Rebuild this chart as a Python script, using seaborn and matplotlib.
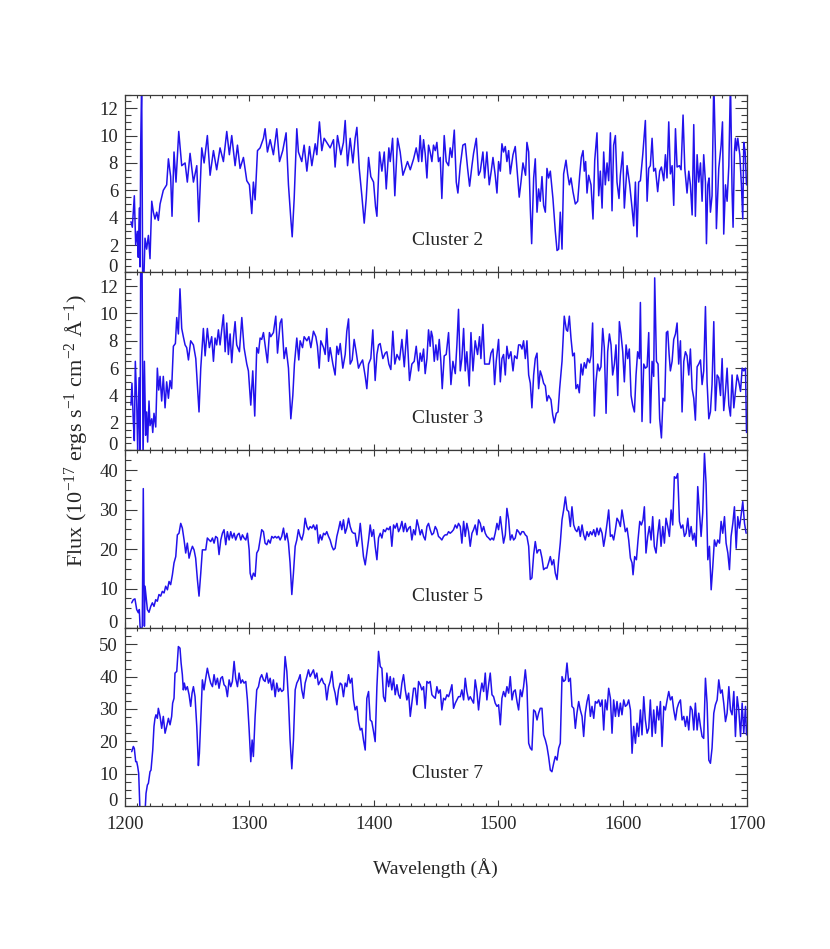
"""
Stacked HST/UV cluster spectra, 1200-1700 A
"""
import matplotlib
matplotlib.use('Agg')
import matplotlib.pyplot as plt
from matplotlib.ticker import MultipleLocator
import pandas as pd
import seaborn as sns

# ---- data ----
panel_labels = ['Cluster 2', 'Cluster 3', 'Cluster 5', 'Cluster 7']
panel_ymax = [13, 13, 45, 55]
panel_major = [2, 2, 10, 10]
panel_minor = [0.5, 0.5, 2.5, 2.5]

wave_c2 = [
    1204.8, 1205.9, 1207.5, 1208.6, 1209.9, 1210.7, 1211.5, 1212.1, 1212.6, 1213.4,
    1214.2, 1215.3, 1216.1, 1217.4, 1218.8, 1220.1, 1221.5, 1222.8, 1224.1, 1225.5,
    1226.8, 1228.2, 1230.8, 1233.5, 1234.9, 1236.7, 1237.8, 1239.4, 1241.0, 1243.2,
    1245.6, 1248.3, 1250.1, 1252.3, 1255.0, 1257.7, 1259.3, 1261.7, 1263.6, 1266.2,
    1268.4, 1271.1, 1273.7, 1276.4, 1279.1, 1281.8, 1283.9, 1285.8, 1288.5, 1290.4,
    1292.5, 1295.2, 1297.9, 1300.0, 1301.9, 1303.2, 1304.6, 1306.5, 1308.6, 1311.3,
    1312.6, 1314.5, 1316.7, 1319.3, 1322.0, 1324.2, 1326.8, 1329.5, 1331.4, 1333.3,
    1334.4, 1336.0, 1338.1, 1339.4, 1342.1, 1344.0, 1346.2, 1348.3, 1350.2, 1352.9,
    1354.2, 1356.3, 1358.2, 1360.1, 1362.2, 1364.9, 1367.6, 1368.9, 1370.8, 1373.5,
    1375.6, 1377.0, 1378.9, 1381.0, 1383.2, 1385.0, 1386.4, 1388.3, 1390.4, 1392.3,
    1393.9, 1395.8, 1397.6, 1399.8, 1401.4, 1402.5, 1404.6, 1406.5, 1408.4, 1410.0,
    1412.1, 1413.2, 1415.1, 1416.9, 1419.1, 1421.2, 1423.4, 1425.3, 1427.1, 1429.3,
    1432.0, 1434.1, 1436.0, 1437.3, 1438.6, 1440.0, 1441.3, 1442.7, 1444.0, 1445.3,
    1446.7, 1448.0, 1449.4, 1450.7, 1452.0, 1453.4, 1454.7, 1456.6, 1458.2, 1460.1,
    1461.4, 1462.8, 1464.7, 1466.3, 1467.6, 1469.5, 1471.6, 1473.5, 1475.4, 1477.0,
    1478.9, 1480.2, 1482.4, 1484.2, 1485.6, 1487.7, 1489.1, 1490.9, 1492.8, 1494.4,
    1495.8, 1497.6, 1499.0, 1500.3, 1501.7, 1503.0, 1504.3, 1505.7, 1507.0, 1508.4,
    1509.7, 1511.9, 1513.7, 1515.1, 1516.9, 1518.3, 1519.9, 1522.0, 1523.1, 1524.5,
    1525.8, 1526.9, 1528.5, 1529.8, 1531.2, 1532.5, 1533.8, 1535.2, 1536.5, 1537.9,
    1539.2, 1540.5, 1541.9, 1544.0, 1545.9, 1547.3, 1548.6, 1549.9, 1551.3, 1552.6,
    1554.5, 1555.8, 1557.2, 1558.5, 1560.1, 1562.0, 1563.9, 1565.5, 1566.8, 1568.2,
    1569.2, 1570.3, 1571.4, 1572.7, 1574.6, 1576.2, 1577.6, 1579.4, 1580.8, 1582.1,
    1583.5, 1584.8, 1586.1, 1587.5, 1588.8, 1590.2, 1591.5, 1592.8, 1594.2, 1595.5,
    1597.1, 1598.2, 1600.1, 1601.4, 1603.6, 1605.7, 1607.6, 1608.9, 1610.3, 1611.6,
    1612.9, 1614.3, 1616.2, 1618.3, 1619.7, 1621.0, 1622.3, 1623.7, 1625.0, 1626.4,
    1628.2, 1629.8, 1631.2, 1633.1, 1634.4, 1635.7, 1637.1, 1638.4, 1639.8, 1641.1,
    1642.5, 1643.8, 1645.7, 1647.0, 1648.6, 1650.0, 1651.8, 1653.2, 1654.5, 1655.9,
    1657.2, 1658.5, 1659.9, 1661.2, 1662.6, 1663.9, 1665.2, 1666.6, 1667.4, 1668.5,
    1669.5, 1670.6, 1671.9, 1673.3, 1674.6, 1675.4, 1677.3, 1679.2, 1680.3, 1681.3,
    1682.7, 1684.0, 1685.4, 1686.7, 1688.0, 1688.8, 1689.9, 1690.7, 1691.5, 1692.6,
    1694.2, 1695.5, 1696.6, 1697.4, 1698.5, 1699.6,
]
flux_c2 = [
    3.7, 3.3, 5.6, 2.0, 3.0, 1.1, 4.7, 0.4, 9.2, 14.0,
    -0.5, 0.0, 2.5, 1.7, 2.7, 1.0, 5.2, 4.4, 3.9, 4.4,
    3.8, 5.0, 6.0, 6.4, 8.3, 7.0, 4.1, 8.8, 6.6, 10.3,
    7.8, 8.0, 6.6, 8.7, 6.6, 7.8, 3.7, 9.1, 8.0, 10.0,
    7.1, 8.9, 7.5, 9.1, 8.1, 10.3, 8.6, 10.0, 7.8, 9.3,
    7.6, 8.4, 6.7, 6.4, 4.3, 6.6, 5.3, 8.9, 9.1, 9.8,
    10.5, 8.8, 9.7, 8.6, 10.5, 8.1, 8.9, 10.2, 6.4, 3.9,
    2.6, 5.4, 10.5, 8.8, 8.1, 9.3, 7.4, 9.2, 7.8, 9.4,
    8.6, 11.0, 8.9, 9.8, 9.5, 9.1, 9.7, 7.7, 10.0, 8.6,
    9.5, 11.1, 7.8, 9.8, 8.0, 9.8, 10.6, 7.6, 5.6, 3.6,
    5.4, 8.4, 7.0, 6.6, 4.8, 4.1, 8.8, 7.4, 8.8, 6.1,
    9.1, 8.1, 9.8, 5.6, 9.8, 8.8, 7.1, 7.6, 8.1, 7.5,
    8.3, 9.1, 8.1, 10.0, 8.1, 9.7, 8.7, 6.9, 9.3, 8.8,
    8.1, 9.3, 8.9, 9.5, 8.1, 8.4, 5.4, 10.0, 8.1, 7.8,
    9.1, 8.4, 10.4, 6.6, 5.8, 7.8, 9.3, 9.4, 7.6, 6.3,
    7.8, 8.7, 9.8, 7.1, 7.4, 8.8, 6.9, 8.8, 6.4, 7.4,
    8.4, 7.1, 5.8, 8.1, 7.4, 9.4, 8.8, 9.2, 8.1, 8.9,
    7.2, 8.6, 9.2, 7.6, 5.5, 6.6, 8.0, 7.1, 9.5, 8.8,
    4.7, 2.1, 6.9, 8.3, 4.4, 6.1, 5.2, 7.0, 4.9, 4.4,
    7.6, 6.9, 7.4, 5.4, 3.0, 1.6, 1.7, 4.4, 1.7, 7.2,
    8.2, 7.2, 6.4, 6.9, 5.9, 5.0, 5.2, 7.1, 8.4, 8.9,
    7.4, 8.1, 5.8, 7.1, 6.4, 3.9, 8.2, 10.2, 5.6, 7.4,
    4.7, 8.8, 6.4, 8.0, 6.7, 10.2, 4.5, 9.3, 10.0, 6.6,
    5.4, 7.1, 8.8, 4.7, 7.8, 6.4, 4.7, 3.4, 6.6, 2.6,
    6.6, 6.7, 8.6, 11.1, 5.2, 7.6, 7.8, 9.8, 7.4, 7.6,
    5.9, 7.4, 7.7, 6.7, 8.6, 6.9, 11.0, 7.2, 7.8, 4.9,
    10.5, 7.7, 7.8, 7.5, 11.5, 7.6, 5.8, 7.4, 6.4, 4.2,
    10.8, 4.1, 8.6, 6.6, 8.0, 5.2, 8.6, 6.6, 2.1, 6.4,
    6.9, 4.4, 5.6, 14.0, 8.8, 3.2, 7.6, 9.3, 11.0, 2.8,
    6.4, 5.2, 7.8, 14.0, 5.9, 3.3, 8.8, 9.8, 8.9, 9.8,
    8.6, 6.4, 3.9, 9.5, 8.8, 6.4,
]

wave_c3 = [
    1204.8, 1205.6, 1206.7, 1207.5, 1208.3, 1209.4, 1210.2, 1211.3, 1212.1, 1212.6,
    1213.7, 1214.5, 1215.6, 1216.6, 1217.4, 1218.2, 1219.3, 1220.1, 1221.5, 1222.3,
    1223.3, 1224.7, 1226.0, 1227.1, 1228.2, 1229.5, 1230.8, 1232.2, 1233.5, 1234.9,
    1236.2, 1237.5, 1238.9, 1240.5, 1241.6, 1242.9, 1244.2, 1245.6, 1246.9, 1248.3,
    1249.6, 1251.0, 1252.8, 1255.0, 1256.9, 1258.2, 1259.5, 1260.9, 1263.0, 1264.4,
    1266.2, 1267.8, 1269.7, 1271.1, 1272.4, 1273.7, 1275.1, 1276.4, 1279.1, 1280.5,
    1281.8, 1283.1, 1284.5, 1285.8, 1287.2, 1288.5, 1289.8, 1292.0, 1293.9, 1295.7,
    1297.9, 1299.2, 1301.1, 1302.7, 1304.3, 1305.9, 1307.3, 1308.6, 1309.9, 1311.3,
    1312.6, 1314.5, 1316.1, 1317.2, 1319.3, 1321.2, 1322.6, 1324.7, 1326.0, 1327.9,
    1329.5, 1331.4, 1333.3, 1334.9, 1336.2, 1338.1, 1339.7, 1340.8, 1342.7, 1344.0,
    1346.2, 1347.8, 1349.4, 1351.5, 1353.4, 1354.7, 1356.1, 1357.4, 1359.6, 1360.9,
    1362.2, 1363.6, 1364.9, 1367.1, 1368.9, 1370.3, 1371.6, 1373.0, 1375.1, 1377.0,
    1378.3, 1379.7, 1381.0, 1382.6, 1384.2, 1385.8, 1387.7, 1389.1, 1391.0, 1393.1,
    1394.4, 1395.8, 1397.6, 1399.2, 1401.1, 1402.5, 1403.8, 1405.1, 1407.3, 1409.2,
    1410.5, 1412.1, 1413.7, 1415.3, 1416.9, 1418.6, 1420.7, 1422.6, 1424.5, 1426.6,
    1428.7, 1430.6, 1432.5, 1434.1, 1436.0, 1437.3, 1438.6, 1440.0, 1441.3, 1442.7,
    1444.0, 1445.3, 1446.2, 1447.2, 1448.6, 1449.9, 1451.2, 1452.6, 1453.9, 1455.0,
    1456.6, 1458.2, 1460.1, 1462.0, 1463.6, 1465.5, 1466.8, 1468.1, 1469.5, 1470.8,
    1472.2, 1473.5, 1474.8, 1476.7, 1478.1, 1479.7, 1481.5, 1483.4, 1485.0, 1486.1,
    1487.7, 1489.1, 1490.9, 1492.8, 1494.2, 1495.8, 1497.1, 1498.4, 1500.3, 1501.7,
    1503.0, 1504.3, 1505.7, 1507.0, 1508.4, 1510.2, 1511.9, 1513.2, 1515.1, 1516.4,
    1517.8, 1519.1, 1520.4, 1521.8, 1523.1, 1524.5, 1525.8, 1527.1, 1528.5, 1529.8,
    1531.2, 1532.5, 1533.8, 1535.2, 1536.5, 1537.9, 1539.2, 1540.5, 1542.4, 1543.8,
    1545.1, 1546.7, 1548.1, 1549.4, 1551.3, 1553.1, 1554.8, 1555.8, 1557.2, 1558.5,
    1559.9, 1561.2, 1562.5, 1563.9, 1565.2, 1566.6, 1567.9, 1569.2, 1570.6, 1571.9,
    1573.5, 1574.6, 1575.9, 1577.3, 1578.6, 1580.0, 1581.3, 1582.6, 1584.0, 1585.3,
    1586.7, 1588.0, 1589.4, 1590.7, 1592.0, 1593.4, 1594.7, 1596.1, 1597.4, 1598.7,
    1600.1, 1601.4, 1602.8, 1604.1, 1605.4, 1606.8, 1608.1, 1609.5, 1610.8, 1612.1,
    1613.5, 1614.3, 1615.6, 1617.0, 1618.3, 1619.7, 1621.0, 1622.3, 1623.7, 1625.0,
    1625.8, 1627.2, 1628.5, 1629.8, 1631.2, 1632.5, 1633.9, 1635.2, 1636.3, 1637.4,
    1638.4, 1639.8, 1641.1, 1642.5, 1643.8, 1645.1, 1646.5, 1647.8, 1649.2, 1650.5,
    1651.8, 1653.2, 1654.5, 1655.9, 1657.2, 1658.5, 1659.9, 1661.2, 1662.6, 1663.9,
    1665.2, 1666.6, 1667.9, 1669.3, 1670.6, 1671.9, 1673.3, 1674.6, 1676.0, 1677.3,
    1678.7, 1680.0, 1681.3, 1682.7, 1684.0, 1685.4, 1686.7, 1688.0, 1689.4, 1690.7,
    1692.1, 1693.4, 1694.8, 1696.1, 1697.4, 1698.8, 1699.6,
]
flux_c3 = [
    3.3, 4.9, 2.1, 0.7, 6.5, 3.6, 0.0, 5.3, -0.6, 14.0,
    14.0, -0.6, 6.5, 1.1, 2.8, 0.6, 3.6, 1.8, 2.3, 1.3,
    2.7, 1.7, 6.0, 4.4, 5.4, 3.6, 5.4, 3.1, 5.0, 3.8,
    5.1, 4.5, 7.6, 7.8, 9.7, 8.5, 11.8, 8.9, 8.3, 7.7,
    7.5, 6.6, 8.0, 7.7, 6.7, 4.8, 2.8, 6.0, 8.9, 6.9,
    8.9, 7.5, 8.3, 6.5, 8.2, 7.7, 8.8, 7.7, 9.9, 7.2,
    9.3, 7.0, 8.5, 6.4, 8.2, 9.4, 7.7, 7.2, 9.7, 7.5,
    6.3, 5.8, 3.3, 5.8, 2.5, 7.5, 7.1, 8.2, 8.1, 8.6,
    7.7, 6.4, 8.6, 8.3, 8.6, 9.8, 7.1, 9.3, 9.6, 6.7,
    7.5, 6.0, 2.3, 4.0, 6.3, 8.2, 6.6, 8.0, 7.5, 8.3,
    8.0, 8.3, 7.5, 8.7, 8.3, 7.6, 6.0, 8.0, 7.5, 7.0,
    8.9, 6.5, 7.5, 6.3, 5.5, 7.6, 7.0, 7.8, 6.0, 7.0,
    8.7, 9.6, 6.3, 6.6, 8.1, 7.2, 6.0, 6.3, 6.6, 5.4,
    4.5, 6.3, 6.7, 8.8, 5.1, 7.0, 7.7, 7.8, 6.7, 7.1,
    7.2, 6.3, 5.9, 8.7, 6.3, 7.0, 6.6, 8.1, 6.1, 8.8,
    5.1, 6.3, 6.5, 7.6, 5.8, 7.1, 6.5, 7.4, 5.6, 6.7,
    8.8, 7.6, 8.7, 8.3, 6.5, 7.7, 6.6, 8.1, 6.5, 4.5,
    6.9, 7.0, 8.6, 4.8, 6.5, 5.6, 7.7, 10.3, 5.8, 6.7,
    8.9, 5.8, 7.2, 4.7, 8.6, 5.8, 8.0, 7.0, 8.3, 6.7,
    9.2, 6.3, 6.3, 6.3, 7.1, 7.4, 4.8, 6.5, 8.1, 5.0,
    6.7, 7.0, 5.5, 7.6, 6.7, 7.2, 5.8, 6.9, 6.7, 7.7,
    7.7, 7.4, 8.0, 6.7, 8.0, 5.5, 4.9, 3.1, 5.5, 6.7,
    7.1, 4.5, 5.8, 5.4, 4.9, 4.7, 3.6, 4.0, 3.7, 2.6,
    2.0, 2.7, 2.8, 4.5, 6.5, 9.8, 8.8, 8.7, 9.8, 8.2,
    6.9, 7.1, 4.5, 4.8, 4.2, 6.3, 5.5, 6.4, 6.0, 6.7,
    6.4, 6.9, 9.3, 2.5, 5.0, 6.3, 5.8, 6.1, 8.9, 7.5,
    2.7, 7.2, 8.5, 7.7, 5.5, 6.3, 7.7, 4.0, 9.4, 8.5,
    7.2, 5.0, 7.7, 6.7, 7.4, 4.0, 3.3, 2.8, 5.5, 7.2,
    6.7, 10.8, 2.1, 6.3, 6.0, 6.1, 8.6, 2.0, 6.5, 5.4,
    12.6, 6.5, 6.3, 2.3, 0.9, 3.8, 3.6, 8.6, 8.7, 7.0,
    5.8, 6.5, 8.1, 8.5, 9.3, 6.3, 8.0, 2.8, 6.5, 7.2,
    6.9, 5.5, 7.4, 4.5, 3.8, 2.2, 6.1, 6.3, 6.6, 4.8,
    5.8, 10.5, 5.0, 2.3, 2.8, 4.8, 9.4, 2.9, 5.5, 5.3,
    4.0, 6.7, 2.9, 4.3, 6.0, 3.3, 2.5, 5.5, 3.1, 4.3,
    5.5, 5.0, 4.3, 6.0, 5.8, 6.0, 1.3,
]

wave_c5 = [
    1205.4, 1206.7, 1208.0, 1209.4, 1210.7, 1211.5, 1212.1, 1212.9, 1213.9, 1214.7,
    1215.6, 1216.1, 1216.9, 1218.0, 1219.3, 1220.7, 1222.0, 1223.3, 1224.7, 1226.0,
    1227.3, 1228.7, 1230.0, 1231.4, 1232.7, 1234.1, 1235.4, 1236.7, 1238.1, 1239.4,
    1240.8, 1242.1, 1243.4, 1244.8, 1246.1, 1247.5, 1248.8, 1250.1, 1251.5, 1252.8,
    1254.2, 1255.5, 1256.8, 1258.2, 1259.5, 1260.9, 1262.2, 1263.5, 1264.9, 1266.2,
    1267.6, 1268.9, 1270.3, 1271.6, 1272.9, 1274.3, 1275.6, 1277.0, 1278.3, 1279.6,
    1281.0, 1282.3, 1283.7, 1285.0, 1286.3, 1287.7, 1289.0, 1290.4, 1291.7, 1293.1,
    1294.4, 1295.7, 1297.1, 1298.4, 1299.8, 1300.6, 1301.9, 1303.2, 1304.6, 1305.9,
    1307.3, 1308.6, 1309.9, 1311.3, 1312.6, 1314.0, 1315.3, 1316.7, 1318.0, 1319.3,
    1320.7, 1322.0, 1323.4, 1324.7, 1326.0, 1327.4, 1328.7, 1330.1, 1331.4, 1332.7,
    1334.1, 1335.4, 1336.8, 1338.1, 1339.4, 1340.8, 1342.1, 1343.5, 1344.8, 1346.2,
    1347.5, 1348.8, 1350.2, 1351.5, 1352.9, 1354.2, 1355.5, 1356.9, 1358.2, 1359.6,
    1360.9, 1362.2, 1363.6, 1364.9, 1366.3, 1367.6, 1368.9, 1370.3, 1371.6, 1373.0,
    1374.3, 1375.6, 1377.0, 1378.3, 1379.7, 1381.0, 1382.4, 1383.7, 1385.0, 1386.4,
    1387.7, 1389.1, 1390.4, 1391.7, 1393.1, 1394.4, 1395.8, 1397.1, 1398.4, 1399.8,
    1401.1, 1402.5, 1403.8, 1405.2, 1406.5, 1407.8, 1409.2, 1410.5, 1411.9, 1413.2,
    1414.5, 1415.9, 1417.2, 1418.6, 1419.9, 1421.2, 1422.6, 1423.9, 1425.3, 1426.6,
    1428.0, 1429.3, 1430.6, 1432.0, 1433.3, 1434.7, 1436.0, 1437.3, 1438.6, 1440.0,
    1441.3, 1442.7, 1444.0, 1445.3, 1446.7, 1448.0, 1449.4, 1450.7, 1452.0, 1453.4,
    1454.7, 1456.1, 1457.4, 1458.8, 1460.1, 1461.4, 1462.8, 1464.1, 1465.5, 1466.8,
    1468.1, 1469.5, 1470.8, 1472.2, 1473.5, 1474.8, 1476.2, 1477.5, 1478.9, 1480.2,
    1481.5, 1482.9, 1484.2, 1485.6, 1486.9, 1488.3, 1489.6, 1490.9, 1492.3, 1493.6,
    1495.0, 1496.3, 1497.6, 1499.0, 1500.3, 1501.7, 1503.0, 1504.3, 1505.7, 1507.0,
    1508.4, 1509.7, 1511.1, 1512.4, 1513.7, 1515.1, 1516.4, 1517.8, 1519.1, 1520.4,
    1521.8, 1523.1, 1524.5, 1525.8, 1527.1, 1528.5, 1529.8, 1531.2, 1532.5, 1533.8,
    1535.2, 1536.5, 1537.9, 1539.2, 1540.5, 1541.9, 1543.2, 1544.6, 1545.9, 1547.3,
    1548.6, 1549.9, 1551.3, 1552.6, 1554.0, 1555.3, 1556.6, 1558.0, 1559.3, 1560.7,
    1562.0, 1563.3, 1564.7, 1566.0, 1567.4, 1568.7, 1570.0, 1571.4, 1572.7, 1574.1,
    1575.4, 1576.8, 1578.1, 1579.4, 1580.8, 1582.1, 1583.5, 1584.8, 1586.1, 1587.5,
    1588.8, 1590.2, 1591.5, 1592.8, 1594.2, 1595.5, 1596.9, 1598.2, 1599.5, 1600.9,
    1602.2, 1603.6, 1604.9, 1606.3, 1607.6, 1608.4, 1609.7, 1611.1, 1612.4, 1613.8,
    1615.1, 1616.4, 1617.5, 1618.8, 1620.2, 1621.5, 1622.9, 1624.2, 1625.5, 1626.9,
    1628.2, 1629.6, 1630.9, 1632.3, 1633.6, 1634.9, 1636.3, 1637.6, 1639.0, 1640.3,
    1641.6, 1643.0, 1644.3, 1645.7, 1647.0, 1648.4, 1649.7, 1651.0, 1652.4, 1653.7,
    1655.1, 1656.4, 1657.7, 1659.1, 1660.4, 1661.8, 1663.1, 1664.4, 1665.8, 1667.1,
    1668.5, 1669.8, 1671.2, 1672.5, 1673.8, 1675.2, 1676.5, 1677.9, 1679.2, 1680.5,
    1681.9, 1683.2, 1684.6, 1685.9, 1687.2, 1688.6, 1689.9, 1691.3, 1692.6, 1693.9,
    1695.3, 1696.6, 1698.0, 1699.3,
]
flux_c5 = [
    6.4, 7.2, 7.4, 4.7, 3.9, 4.7, 0.5, -1.0, 0.5, 35.3,
    0.5, 10.6, 8.1, 4.7, 4.0, 5.5, 6.4, 5.5, 7.2, 6.8,
    8.5, 8.1, 9.3, 8.9, 10.6, 9.7, 11.8, 11.0, 13.5, 16.5,
    18.1, 23.6, 24.0, 26.5, 25.3, 22.3, 19.0, 21.5, 17.7, 19.4,
    20.7, 19.8, 17.7, 12.3, 8.1, 13.9, 19.8, 19.8, 19.8, 22.8,
    22.3, 21.9, 22.8, 21.5, 23.2, 22.8, 18.6, 22.3, 24.0, 24.9,
    21.1, 24.4, 22.3, 24.4, 22.8, 24.0, 22.3, 23.6, 24.0, 22.3,
    23.6, 22.8, 22.3, 24.0, 19.8, 13.9, 12.3, 13.9, 13.1, 19.0,
    19.8, 22.3, 24.9, 24.4, 21.5, 21.1, 22.3, 21.5, 23.2, 22.8,
    23.2, 22.8, 23.2, 22.3, 23.2, 25.3, 22.3, 24.0, 21.5, 16.5,
    8.5, 13.9, 20.7, 22.3, 24.9, 23.2, 22.3, 24.0, 27.8, 25.7,
    24.9, 25.7, 25.3, 26.1, 24.9, 26.1, 21.5, 23.6, 22.3, 24.0,
    23.6, 24.4, 23.2, 22.3, 20.7, 19.8, 20.2, 23.2, 24.9, 27.0,
    24.9, 27.4, 24.0, 25.3, 27.8, 25.7, 24.4, 24.0, 24.0, 20.7,
    22.3, 26.5, 22.3, 18.1, 16.0, 19.0, 22.3, 26.1, 23.2, 24.9,
    20.7, 17.3, 22.8, 24.0, 22.8, 24.9, 24.4, 25.3, 24.9, 25.7,
    20.7, 26.1, 25.3, 26.5, 24.4, 25.3, 27.0, 24.4, 26.5, 24.4,
    25.3, 25.7, 22.3, 24.9, 23.6, 27.4, 25.7, 23.6, 24.9, 23.2,
    22.3, 25.7, 26.5, 24.9, 23.6, 24.0, 25.7, 24.9, 23.2, 22.8,
    22.3, 23.2, 23.6, 23.6, 24.4, 24.0, 24.4, 24.9, 26.1, 25.3,
    26.5, 25.7, 21.5, 27.0, 23.2, 26.5, 24.4, 20.7, 24.0, 24.9,
    26.1, 23.6, 27.4, 26.5, 24.4, 25.7, 24.0, 23.2, 22.8, 22.3,
    22.8, 22.3, 24.0, 26.5, 24.9, 28.2, 24.9, 21.5, 23.6, 30.3,
    27.4, 22.3, 23.6, 22.3, 22.8, 24.9, 24.4, 23.6, 24.4, 24.4,
    23.6, 23.2, 20.7, 12.3, 12.7, 18.6, 21.9, 19.0, 19.8, 19.8,
    17.7, 14.8, 15.2, 15.2, 16.5, 18.1, 16.0, 17.3, 13.9, 12.3,
    17.3, 21.5, 27.4, 29.9, 33.2, 29.9, 29.5, 25.7, 30.7, 26.1,
    24.9, 24.4, 25.7, 23.2, 26.1, 23.6, 22.3, 24.4, 23.2, 24.4,
    23.6, 24.9, 23.2, 25.3, 23.6, 25.3, 24.0, 20.7, 23.2, 26.5,
    29.9, 23.2, 23.6, 22.3, 24.9, 27.8, 27.0, 25.7, 29.9, 27.0,
    24.4, 25.3, 22.3, 17.7, 16.5, 13.5, 18.1, 17.3, 22.3, 27.0,
    26.1, 27.4, 30.7, 19.0, 23.2, 25.7, 22.3, 28.2, 20.7, 19.0,
    23.6, 27.4, 20.7, 25.7, 21.5, 27.8, 25.7, 23.2, 29.9, 26.1,
    38.3, 37.9, 39.1, 27.0, 25.3, 26.1, 23.2, 24.0, 27.8, 23.2,
    25.7, 22.3, 24.0, 20.7, 35.8, 29.1, 23.2, 29.1, 44.2, 36.6,
    17.3, 20.7, 9.7, 15.6, 22.3, 20.7, 22.3, 21.5, 27.0, 24.0,
    28.2, 21.5, 19.0, 14.8, 23.2, 26.5, 30.7, 20.2, 28.2, 25.3,
    28.6, 32.0, 26.5, 24.0,
]

wave_c7 = [
    1205.4, 1206.7, 1207.5, 1208.6, 1209.4, 1210.2, 1211.0, 1212.1, 1216.1, 1216.9,
    1218.0, 1218.8, 1220.1, 1220.9, 1222.3, 1223.3, 1224.1, 1224.9, 1226.0, 1226.8,
    1228.2, 1229.5, 1230.8, 1232.2, 1233.5, 1234.9, 1236.2, 1237.5, 1238.3, 1239.4,
    1240.2, 1241.6, 1242.9, 1244.2, 1245.1, 1246.1, 1246.9, 1247.7, 1248.8, 1250.1,
    1251.5, 1252.8, 1253.9, 1255.0, 1256.3, 1257.7, 1259.0, 1259.8, 1260.9, 1262.2,
    1263.5, 1264.9, 1266.2, 1267.6, 1268.9, 1270.3, 1271.6, 1272.9, 1274.3, 1275.6,
    1277.0, 1278.3, 1279.6, 1281.0, 1282.3, 1283.7, 1285.0, 1286.3, 1287.7, 1289.0,
    1290.4, 1291.7, 1293.1, 1294.4, 1295.7, 1297.1, 1298.4, 1299.8, 1301.1, 1302.2,
    1303.2, 1304.6, 1305.9, 1307.3, 1308.6, 1309.9, 1311.3, 1312.6, 1314.0, 1315.3,
    1316.7, 1318.0, 1319.3, 1320.7, 1322.0, 1323.4, 1324.7, 1326.0, 1327.4, 1328.7,
    1330.1, 1331.4, 1332.7, 1334.1, 1335.4, 1336.8, 1338.1, 1339.4, 1340.8, 1342.1,
    1343.5, 1344.8, 1346.2, 1347.5, 1348.8, 1350.2, 1351.5, 1352.9, 1354.2, 1355.5,
    1356.9, 1358.2, 1359.6, 1360.9, 1362.2, 1363.6, 1364.9, 1366.3, 1367.6, 1368.9,
    1370.3, 1371.6, 1373.0, 1374.3, 1375.6, 1377.0, 1378.3, 1379.7, 1381.0, 1382.4,
    1383.7, 1385.0, 1386.4, 1387.7, 1389.1, 1390.4, 1391.7, 1393.1, 1394.4, 1395.8,
    1397.1, 1398.4, 1399.8, 1401.1, 1402.5, 1403.8, 1405.2, 1406.5, 1407.8, 1409.2,
    1410.5, 1411.9, 1413.2, 1414.5, 1415.9, 1417.2, 1418.6, 1419.9, 1421.2, 1422.6,
    1423.9, 1425.3, 1426.6, 1428.0, 1429.3, 1430.6, 1432.0, 1433.3, 1434.7, 1436.0,
    1437.3, 1438.6, 1440.0, 1441.3, 1442.7, 1444.0, 1445.3, 1446.7, 1448.0, 1449.4,
    1450.7, 1452.0, 1453.4, 1454.7, 1456.1, 1457.4, 1458.8, 1460.1, 1461.4, 1462.8,
    1464.1, 1465.5, 1466.8, 1468.1, 1469.5, 1470.8, 1472.2, 1473.5, 1474.8, 1476.2,
    1477.5, 1478.9, 1480.2, 1481.5, 1482.9, 1484.2, 1485.6, 1486.9, 1488.3, 1489.6,
    1490.9, 1492.3, 1493.6, 1495.0, 1496.3, 1497.6, 1499.0, 1500.3, 1501.7, 1503.0,
    1504.3, 1505.7, 1507.0, 1508.4, 1509.7, 1511.1, 1512.4, 1513.7, 1515.1, 1516.4,
    1517.8, 1519.1, 1520.4, 1521.8, 1523.1, 1524.5, 1525.8, 1527.1, 1528.5, 1529.8,
    1531.2, 1532.5, 1533.8, 1535.2, 1536.5, 1537.9, 1539.2, 1540.5, 1541.9, 1543.2,
    1544.6, 1545.9, 1547.3, 1548.6, 1549.9, 1551.3, 1552.6, 1554.0, 1555.3, 1556.6,
    1558.0, 1559.3, 1560.7, 1562.0, 1563.3, 1564.7, 1566.0, 1567.4, 1568.7, 1570.0,
    1571.4, 1572.7, 1574.1, 1575.4, 1576.8, 1578.1, 1579.4, 1580.8, 1582.1, 1583.5,
    1584.8, 1586.1, 1587.5, 1588.8, 1590.2, 1591.5, 1592.8, 1594.2, 1595.5, 1596.9,
    1598.2, 1599.5, 1600.9, 1602.2, 1603.6, 1604.9, 1606.3, 1607.6, 1608.9, 1610.3,
    1611.6, 1612.9, 1614.3, 1615.6, 1617.0, 1618.3, 1619.7, 1621.0, 1622.3, 1623.7,
    1625.0, 1626.4, 1627.7, 1629.1, 1630.4, 1631.7, 1633.1, 1634.4, 1635.8, 1637.1,
    1638.4, 1639.8, 1641.1, 1642.5, 1643.8, 1645.1, 1646.5, 1647.8, 1649.2, 1650.5,
    1651.8, 1653.2, 1654.5, 1655.9, 1657.2, 1658.5, 1659.9, 1661.2, 1662.6, 1663.9,
    1665.2, 1666.6, 1667.9, 1669.3, 1670.6, 1671.9, 1673.3, 1674.6, 1676.0, 1677.3,
    1678.7, 1680.0, 1681.3, 1682.7, 1684.0, 1685.4, 1686.7, 1688.0, 1689.4, 1690.7,
    1692.1, 1693.4, 1694.8, 1696.1, 1697.4, 1698.8, 1699.6,
]
flux_c7 = [
    16.8, 18.4, 17.8, 13.7, 13.7, 12.2, 10.1, -2.0, -2.0, 3.9,
    6.5, 7.0, 10.6, 11.1, 17.3, 24.6, 27.1, 28.2, 27.1, 30.2,
    27.7, 24.0, 27.7, 22.5, 24.6, 27.1, 25.1, 27.7, 31.8, 33.3,
    41.1, 41.6, 49.3, 48.8, 44.2, 40.6, 35.9, 38.0, 35.9, 36.9,
    34.4, 30.8, 34.9, 36.9, 33.8, 24.6, 12.5, 16.3, 26.6, 39.0,
    35.9, 39.5, 42.6, 40.0, 38.0, 36.9, 40.6, 37.5, 39.5, 36.4,
    39.5, 40.0, 37.5, 36.9, 33.8, 39.0, 36.9, 38.5, 44.7, 39.5,
    36.9, 41.1, 38.0, 39.0, 38.0, 38.5, 32.8, 23.5, 13.7, 20.4,
    15.3, 27.7, 35.9, 36.9, 39.5, 40.6, 39.0, 38.5, 41.1, 38.0,
    39.5, 35.9, 39.0, 33.8, 38.0, 35.4, 36.4, 35.4, 35.9, 46.2,
    41.6, 32.8, 20.4, 11.5, 20.4, 35.9, 38.0, 39.0, 40.6, 35.9,
    33.3, 38.0, 40.0, 42.1, 40.0, 41.1, 42.1, 39.5, 41.1, 37.5,
    38.5, 39.5, 38.0, 37.5, 32.8, 36.9, 38.5, 41.6, 36.9, 34.9,
    31.3, 35.9, 38.0, 37.5, 33.8, 38.0, 36.9, 40.6, 38.0, 39.5,
    32.8, 29.7, 30.8, 26.1, 23.5, 24.0, 20.4, 17.3, 33.3, 35.4,
    26.6, 26.1, 23.0, 19.9, 36.9, 47.8, 43.1, 42.6, 33.8, 32.3,
    41.1, 36.9, 40.0, 35.9, 39.5, 34.4, 37.5, 34.4, 33.3, 38.0,
    40.6, 35.9, 32.8, 34.9, 27.7, 31.8, 36.4, 36.4, 31.3, 38.5,
    37.5, 35.9, 36.9, 30.2, 38.5, 38.0, 38.5, 34.4, 33.8, 33.3,
    36.9, 34.9, 35.9, 29.7, 33.3, 32.8, 34.4, 33.8, 35.4, 37.5,
    30.2, 31.8, 32.8, 33.8, 33.8, 35.9, 32.8, 39.5, 35.4, 32.8,
    33.8, 32.8, 31.8, 39.0, 35.4, 29.7, 34.9, 38.0, 35.4, 41.1,
    32.8, 37.5, 41.1, 34.4, 33.8, 31.8, 30.8, 31.3, 25.1, 33.3,
    35.4, 33.8, 36.9, 34.9, 40.0, 32.8, 35.4, 35.9, 32.3, 29.7,
    35.9, 33.8, 36.9, 42.1, 36.9, 19.4, 17.9, 17.3, 29.7, 29.2,
    26.6, 28.7, 30.2, 30.2, 22.0, 20.4, 18.4, 15.3, 11.1, 10.6,
    13.2, 15.3, 14.2, 17.9, 19.4, 40.0, 38.5, 39.0, 44.2, 38.5,
    39.5, 30.8, 30.2, 24.0, 28.7, 32.3, 29.7, 27.7, 21.5, 28.7,
    32.3, 34.4, 27.7, 30.8, 27.1, 32.3, 31.8, 32.8, 30.8, 32.8,
    23.5, 32.8, 29.7, 36.4, 33.3, 22.5, 32.8, 27.7, 32.3, 27.7,
    31.8, 28.2, 32.8, 30.8, 31.3, 32.8, 29.7, 16.3, 24.6, 19.4,
    25.6, 21.5, 29.7, 22.0, 33.8, 26.6, 22.5, 24.0, 32.8, 21.5,
    29.7, 22.5, 30.8, 26.6, 32.3, 18.4, 30.8, 29.7, 32.8, 35.4,
    32.8, 33.8, 29.7, 26.6, 30.2, 31.8, 32.8, 26.6, 27.7, 24.6,
    27.7, 23.5, 30.8, 29.7, 23.5, 31.8, 23.5, 28.7, 24.6, 21.5,
    20.9, 39.5, 31.8, 14.2, 13.2, 17.9, 28.7, 31.3, 32.8, 39.0,
    34.9, 35.9, 31.8, 26.1, 28.7, 36.9, 29.7, 28.2, 35.4, 21.5,
    33.8, 29.7, 21.5, 31.8, 22.5, 30.8, 22.0,
]

LINE_COLOR = '#2212ec'
AXIS_COLOR = '#3a3a3a'


def draw_panel(ax, wave, flux, label, ymax, major, minor):
    """Draw one cluster spectrum in IDL-like style"""
    df = pd.DataFrame({'wave': wave, 'flux': flux})
    sns.lineplot(data=df, x='wave', y='flux', ax=ax, color=LINE_COLOR,
                 linewidth=1.1, estimator=None, sort=False)
    ax.set_xlim(1200, 1700)
    ax.set_ylim(0, ymax)
    ax.xaxis.set_major_locator(MultipleLocator(100))
    ax.xaxis.set_minor_locator(MultipleLocator(10))
    ax.yaxis.set_major_locator(MultipleLocator(major))
    ax.yaxis.set_minor_locator(MultipleLocator(minor))
    ax.tick_params(which='both', direction='in', top=True, right=True,
                   color=AXIS_COLOR, width=0.8, labelsize=13.5)
    ax.tick_params(axis='x', which='major', length=4.5, pad=7)
    ax.tick_params(axis='x', which='minor', length=2.3)
    ax.tick_params(axis='y', which='major', length=8.5, pad=5)
    ax.tick_params(axis='y', which='minor', length=4.3)
    for side in ax.spines.values():
        side.set_color(AXIS_COLOR)
        side.set_linewidth(0.9)
    ax.set_xlabel('')
    ax.set_ylabel('')
    # IDL lifts the bottom "0" label above its tick
    locs = ax.yaxis.get_majorticklocs()
    ticks = ax.yaxis.get_major_ticks(len(locs))
    for tick, loc in zip(ticks, locs):
        if abs(loc) < 1e-9:
            tick.label1.set_verticalalignment('baseline')
    ax.text(0.518, 0.18, label, transform=ax.transAxes,
            ha='center', va='center', fontsize=14)


sns.set_theme(style='ticks')
plt.rcParams['font.family'] = ['Liberation Serif', 'DejaVu Serif']
plt.rcParams['mathtext.fontset'] = 'custom'
plt.rcParams['mathtext.rm'] = 'Liberation Serif'
plt.rcParams['mathtext.it'] = 'Liberation Serif:italic'

fig, axes = plt.subplots(4, 1, figsize=(8.3, 9.49), dpi=100, sharex=True)
fig.subplots_adjust(left=0.1506, right=0.9, top=0.9004, bottom=0.1507, hspace=0)

waves = [wave_c2, wave_c3, wave_c5, wave_c7]
fluxes = [flux_c2, flux_c3, flux_c5, flux_c7]
for i, ax in enumerate(axes):
    draw_panel(ax, waves[i], fluxes[i], panel_labels[i],
               panel_ymax[i], panel_major[i], panel_minor[i])

fig.text(0.524, 0.0854, 'Wavelength (Å)', ha='center', va='center', fontsize=14)
fig.text(0.092, 0.546,
         r'Flux (10$^{-17}$ ergs s$^{-1}$ cm$^{-2}$ Å$^{-1}$)',
         ha='center', va='center', rotation=90, fontsize=16)

fig.savefig('out.png', dpi=100)
plt.close(fig)
